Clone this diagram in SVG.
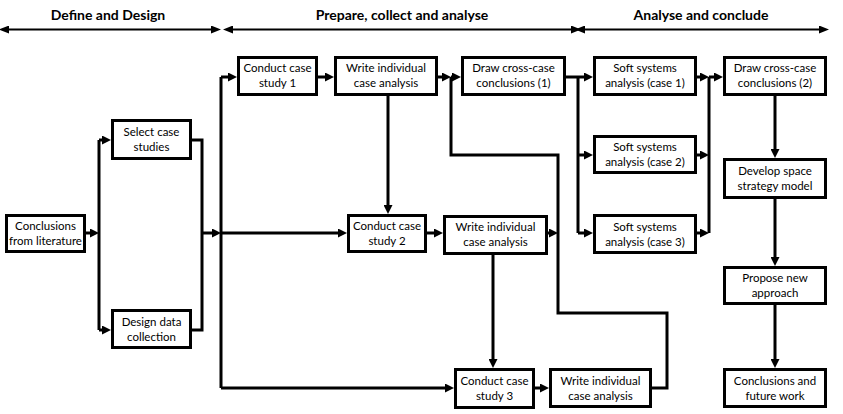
<svg xmlns="http://www.w3.org/2000/svg" width="843" height="414" viewBox="0 0 843 414">
<style>
.box{fill:#fff;stroke:#000;stroke-width:3}
.t{font-family:Lato,"Liberation Sans",sans-serif;font-size:11.5px;fill:#000;text-anchor:middle}
.h{font-family:Lato,"Liberation Sans",sans-serif;font-size:14px;font-weight:bold;fill:#000;text-anchor:middle}
.c{fill:none;stroke:#000;stroke-width:3}
.ha{fill:none;stroke:#000;stroke-width:2}
</style>
<defs>
<marker id="a" markerUnits="userSpaceOnUse" markerWidth="9" markerHeight="9" refX="5" refY="4.5" orient="auto"><path d="M0,0 L9,4.5 L0,9 z" fill="#000"/></marker>
<marker id="hs" markerUnits="userSpaceOnUse" markerWidth="10" markerHeight="8" refX="3" refY="4" orient="auto-start-reverse"><path d="M0,0 L10,4 L0,8 z" fill="#000"/></marker>
</defs>
<rect width="843" height="414" fill="#fff"/>
<g id="headers">
<text class="h" x="108" y="20">Define and Design</text>
<text class="h" x="402" y="20">Prepare, collect and analyse</text>
<text class="h" x="701" y="20">Analyse and conclude</text>
<path class="ha" d="M6,29.5 H214" marker-start="url(#hs)" marker-end="url(#hs)"/>
<path class="ha" d="M230,29.5 H574" marker-start="url(#hs)" marker-end="url(#hs)"/>
<path class="ha" d="M582,29.5 H822" marker-start="url(#hs)" marker-end="url(#hs)"/>
</g>
<g id="connectors">
<path class="c" d="M86,233 H95" marker-end="url(#a)"/>
<path class="c" d="M99,140 V330"/>
<path class="c" d="M99,140 H107" marker-end="url(#a)"/>
<path class="c" d="M99,330 H107" marker-end="url(#a)"/>
<path class="c" d="M192,140 H202 V330 H192"/>
<path class="c" d="M202,233 H217" marker-end="url(#a)"/>
<path class="c" d="M221,77 V388"/>
<path class="c" d="M221,77 H233" marker-end="url(#a)"/>
<path class="c" d="M221,233 H343" marker-end="url(#a)"/>
<path class="c" d="M221,388 H450" marker-end="url(#a)"/>
<path class="c" d="M318,77 H330" marker-end="url(#a)"/>
<path class="c" d="M388,96 V210" marker-end="url(#a)"/>
<path class="c" d="M438,77 H447" marker-end="url(#a)"/>
<path class="c" d="M451,77 V155 H558 V313 H667 V388 H652"/>
<path class="c" d="M451,77 H457" marker-end="url(#a)"/>
<path class="c" d="M427,233 H439" marker-end="url(#a)"/>
<path class="c" d="M548,233 H554" marker-end="url(#a)"/>
<path class="c" d="M493,255 V364" marker-end="url(#a)"/>
<path class="c" d="M535,388 H545" marker-end="url(#a)"/>
<path class="c" d="M566,77 H589" marker-end="url(#a)"/>
<path class="c" d="M578,77 V233"/>
<path class="c" d="M578,155 H589" marker-end="url(#a)"/>
<path class="c" d="M578,233 H589" marker-end="url(#a)"/>
<path class="c" d="M697,77 H705" marker-end="url(#a)"/>
<path class="c" d="M697,155 H705" marker-end="url(#a)"/>
<path class="c" d="M697,233 H705" marker-end="url(#a)"/>
<path class="c" d="M709,77 V233"/>
<path class="c" d="M709,77 H719" marker-end="url(#a)"/>
<path class="c" d="M775,96 V154" marker-end="url(#a)"/>
<path class="c" d="M775,199 V262" marker-end="url(#a)"/>
<path class="c" d="M775,305 V364" marker-end="url(#a)"/>
</g>
<g id="lit"><rect class="box" x="6.5" y="215.5" width="78" height="36"/><text class="t" x="45.5" y="230">Conclusions</text><text class="t" x="45.5" y="245">from literature</text></g>
<g id="select"><rect class="box" x="112.5" y="120.5" width="78" height="38"/><text class="t" x="151.5" y="136">Select case</text><text class="t" x="151.5" y="151">studies</text></g>
<g id="design"><rect class="box" x="112.5" y="310.5" width="78" height="37"/><text class="t" x="151.5" y="325.5">Design data</text><text class="t" x="151.5" y="340.5">collection</text></g>
<g id="cs1"><rect class="box" x="238.5" y="57.5" width="78" height="37"/><text class="t" x="277.5" y="72">Conduct case</text><text class="t" x="277.5" y="87">study 1</text></g>
<g id="wi1"><rect class="box" x="335.5" y="57.5" width="101" height="37"/><text class="t" x="386" y="72">Write individual</text><text class="t" x="386" y="87">case analysis</text></g>
<g id="dcc1"><rect class="box" x="462.5" y="57.5" width="102" height="37"/><text class="t" x="513.5" y="72">Draw cross-case</text><text class="t" x="513.5" y="87">conclusions (1)</text></g>
<g id="cs2"><rect class="box" x="348.5" y="215.5" width="77" height="36"/><text class="t" x="387" y="230">Conduct case</text><text class="t" x="387" y="245">study 2</text></g>
<g id="wi2"><rect class="box" x="444.5" y="216.5" width="102" height="37"/><text class="t" x="495.5" y="231">Write individual</text><text class="t" x="495.5" y="246">case analysis</text></g>
<g id="cs3"><rect class="box" x="455.5" y="369.5" width="78" height="38"/><text class="t" x="494.5" y="385">Conduct case</text><text class="t" x="494.5" y="400">study 3</text></g>
<g id="wi3"><rect class="box" x="550.5" y="369.5" width="100" height="37"/><text class="t" x="600.5" y="384.5">Write individual</text><text class="t" x="600.5" y="399.5">case analysis</text></g>
<g id="ss1"><rect class="box" x="594.5" y="57.5" width="101" height="37"/><text class="t" x="645" y="72">Soft systems</text><text class="t" x="645" y="87">analysis (case 1)</text></g>
<g id="ss2"><rect class="box" x="594.5" y="136.5" width="101" height="36"/><text class="t" x="645" y="151">Soft systems</text><text class="t" x="645" y="166">analysis (case 2)</text></g>
<g id="ss3"><rect class="box" x="594.5" y="215.5" width="101" height="37"/><text class="t" x="645" y="230.5">Soft systems</text><text class="t" x="645" y="245.5">analysis (case 3)</text></g>
<g id="dcc2"><rect class="box" x="724.5" y="57.5" width="101" height="37"/><text class="t" x="775" y="72">Draw cross-case</text><text class="t" x="775" y="87">conclusions (2)</text></g>
<g id="dev"><rect class="box" x="724.5" y="159.5" width="101" height="38"/><text class="t" x="775" y="175">Develop space</text><text class="t" x="775" y="190">strategy model</text></g>
<g id="prop"><rect class="box" x="724.5" y="267.5" width="101" height="36"/><text class="t" x="775" y="282">Propose new</text><text class="t" x="775" y="297">approach</text></g>
<g id="concl"><rect class="box" x="724.5" y="369.5" width="101" height="37"/><text class="t" x="775" y="384.5">Conclusions and</text><text class="t" x="775" y="399.5">future work</text></g>
</svg>
